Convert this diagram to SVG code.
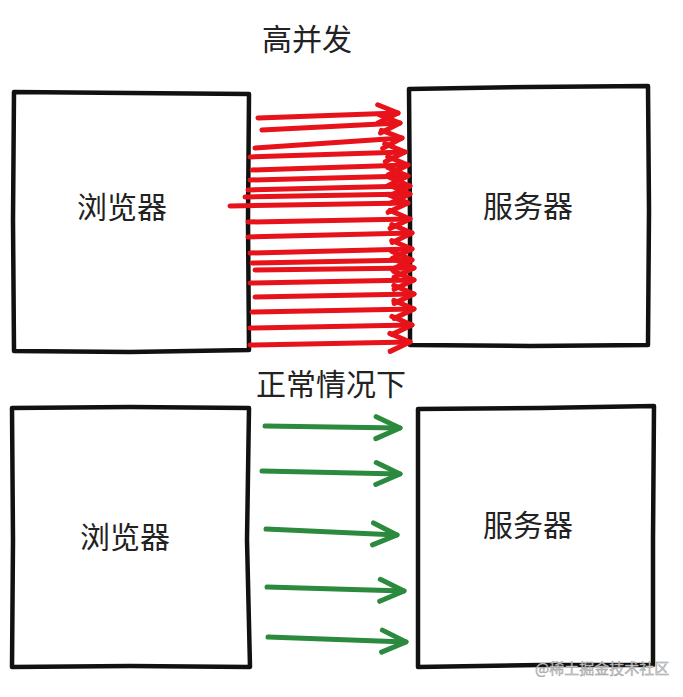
<svg xmlns="http://www.w3.org/2000/svg" width="683" height="697" viewBox="0 0 683 697">
<style>
.box{fill:#fff;stroke:#111;stroke-width:4.5;stroke-linejoin:round;stroke-linecap:round}
.lbl{font-family:"Noto Sans CJK SC","Noto Sans",sans-serif;font-size:30px;fill:#222;text-anchor:middle}
.red{fill:none;stroke:#e8121a;stroke-width:5;stroke-linecap:round;marker-end:url(#rh)}
.grn{fill:none;stroke:#2b8a3e;stroke-width:5;stroke-linecap:round;marker-end:url(#gh)}
.wm{font-family:"Noto Sans CJK SC","Noto Sans",sans-serif;font-size:15px;fill:#c9c9c9;stroke:#9a9a9a;stroke-width:0.4}
</style>
<defs>
<marker id="rh" markerUnits="userSpaceOnUse" markerWidth="40" markerHeight="30" viewBox="-30 -15 40 30" refX="0" refY="0" orient="auto" overflow="visible">
<path d="M-20,-9 L0,0 L-20,9" fill="none" stroke="#e8121a" stroke-width="5" stroke-linecap="round" stroke-linejoin="round"/>
</marker>
<marker id="gh" markerUnits="userSpaceOnUse" markerWidth="40" markerHeight="30" viewBox="-30 -15 40 30" refX="0" refY="0" orient="auto" overflow="visible">
<path d="M-24,-11 L0,0 L-24,11" fill="none" stroke="#2b8a3e" stroke-width="5" stroke-linecap="round" stroke-linejoin="round"/>
</marker>
</defs>
<rect width="683" height="697" fill="#fff"/>

<text class="lbl" x="307" y="50">高并发</text>
<text class="lbl" x="331" y="395">正常情况下</text>

<g id="browser-top">
<path class="box" d="M14,92 L130,93 L249,94 L248,220 L249,350 L130,352 L14,351 L13,220 Z"/>
<text class="lbl" x="122" y="218">浏览器</text>
</g>
<g id="server-top">
<path class="box" d="M409,89 L530,87 L648,86 L649,210 L648,345 L530,346 L410,345 L410,220 Z"/>
<text class="lbl" x="528" y="217">服务器</text>
</g>
<g id="browser-bottom">
<path class="box" d="M12,408 L130,407 L249,408 L247,540 L250,667 L130,666 L12,667 L13,540 Z"/>
<text class="lbl" x="125" y="548">浏览器</text>
</g>
<g id="server-bottom">
<path class="box" d="M418,409 L540,408 L654,406 L653,540 L653,665 L540,665 L418,667 L418,540 Z"/>
<text class="lbl" x="528" y="536">服务器</text>
</g>

<g id="connectors">
<path class="red" d="M258,118 L398,113"/>
<path class="red" d="M262,130 L400,123"/>
<path class="red" d="M255,148 L402,138"/>
<path class="red" d="M250,157 L405,152"/>
<path class="red" d="M252,170 L408,165"/>
<path class="red" d="M250,180 L408,176"/>
<path class="red" d="M248,190 L410,186"/>
<path class="red" d="M245,197 L410,194"/>
<path class="red" d="M230,206 L408,203"/>
<path class="red" d="M248,222 L410,219"/>
<path class="red" d="M248,237 L412,233"/>
<path class="red" d="M250,253 L412,249"/>
<path class="red" d="M252,263 L412,260"/>
<path class="red" d="M255,270 L414,268"/>
<path class="red" d="M250,283 L414,280"/>
<path class="red" d="M255,297 L414,294"/>
<path class="red" d="M252,312 L414,309"/>
<path class="red" d="M250,328 L412,325"/>
<path class="red" d="M250,345 L410,342"/>

<path class="grn" d="M265,426 L400,428"/>
<path class="grn" d="M262,471 L400,474"/>
<path class="grn" d="M266,529 L397,535"/>
<path class="grn" d="M267,587 L404,591"/>
<path class="grn" d="M268,637 L406,642"/>
</g>

<text class="wm" x="535" y="674">@稀土掘金技术社区</text>
</svg>
